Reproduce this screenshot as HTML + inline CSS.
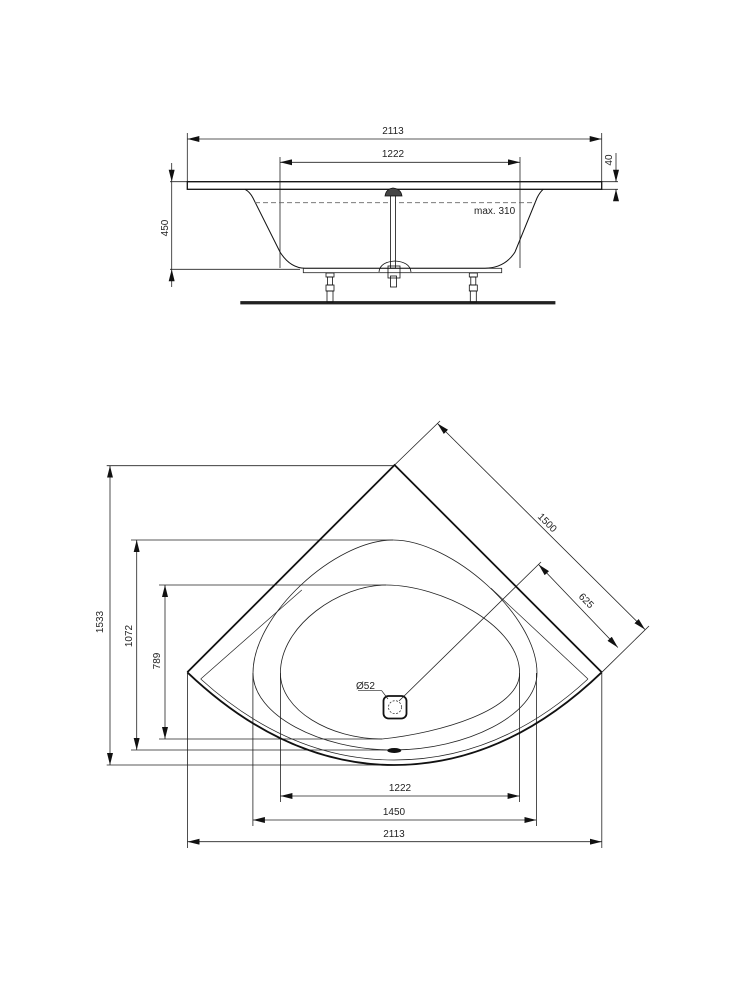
<!DOCTYPE html>
<html><head><meta charset="utf-8"><style>
html,body{margin:0;padding:0;background:#fff;}
svg{display:block;}
text{font-family:"Liberation Sans",sans-serif;font-size:10px;fill:#222;}
</style></head><body>
<svg width="750" height="982" viewBox="0 0 750 982" xmlns="http://www.w3.org/2000/svg">
<defs>
<marker id="a" viewBox="0 0 12 6" refX="12" refY="3" markerWidth="12" markerHeight="6" markerUnits="userSpaceOnUse" orient="auto-start-reverse">
<path d="M0,0 L12,3 L0,6 Z" fill="#111"/></marker>
</defs>
<g stroke="#222" stroke-width="0.8" fill="none">
<!-- TOP VIEW -->
<line x1="187.3" y1="139" x2="601.7" y2="139" marker-start="url(#a)" marker-end="url(#a)"/>
<line x1="187.3" y1="133" x2="187.3" y2="182"/>
<line x1="601.7" y1="133" x2="601.7" y2="182"/>
<line x1="280" y1="162.3" x2="520" y2="162.3" marker-start="url(#a)" marker-end="url(#a)"/>
<line x1="280" y1="157" x2="280" y2="268"/>
<line x1="520" y1="157" x2="520" y2="268"/>
<line x1="170" y1="181.7" x2="618" y2="181.7"/>
<line x1="601.7" y1="189.3" x2="618" y2="189.3"/>
<line x1="170" y1="269.3" x2="300" y2="269.3"/>
<!-- 450 -->
<line x1="171.7" y1="163" x2="171.7" y2="181.7" marker-end="url(#a)"/>
<line x1="171.7" y1="181.7" x2="171.7" y2="269.3"/>
<line x1="171.7" y1="287" x2="171.7" y2="269.3" marker-end="url(#a)"/>
<!-- 40 -->
<line x1="616" y1="153" x2="616" y2="181.7" marker-end="url(#a)"/>
<line x1="616" y1="201" x2="616" y2="189.3" marker-end="url(#a)"/>
<rect x="187.3" y="181.7" width="414.4" height="7.6" stroke-width="1.3" stroke="#111"/>
<path d="M245,189.3 Q250,192 253,198 L280,252 Q290,268 305,268.3 L485,268.3 Q505,268 515,252 L537,198 Q540,192 543.3,189.3" stroke="#111" stroke-width="1"/>
<line x1="255" y1="202.7" x2="536" y2="202.7" stroke-dasharray="5,3" stroke="#666"/>
<rect x="303.3" y="268.3" width="198.4" height="4.4"/>
<rect x="240.7" y="301.5" width="314.3" height="2.5" fill="#222"/>
<!-- feet -->
<g stroke="#111">
<rect x="326" y="273" width="8" height="4"/><rect x="327.5" y="277" width="5" height="8"/><rect x="326" y="285" width="8" height="6"/><rect x="327" y="291" width="6" height="11"/>
<rect x="469.3" y="273" width="8" height="4"/><rect x="470.8" y="277" width="5" height="8"/><rect x="469.3" y="285" width="8" height="6"/><rect x="470.3" y="291" width="6" height="11"/>
</g>
<!-- pipe -->
<path d="M385,196 Q386,189 393,188 Q401,189 402,196 Z" fill="#444" stroke="#111"/>
<rect x="390.5" y="196" width="5" height="72" fill="#fff" stroke="#111"/>
<path d="M379,272 Q380,262 395,261 Q410,262 411,272" stroke="#111"/>
<rect x="388" y="266" width="12" height="12" stroke="#111"/>
<rect x="390.5" y="276" width="6" height="11" stroke="#111"/>
</g>
<text x="393" y="134" text-anchor="middle">2113</text>
<text x="393" y="157" text-anchor="middle">1222</text>
<text x="474" y="214">max. 310</text>
<text transform="translate(168,228) rotate(-90)" text-anchor="middle">450</text>
<text transform="translate(612,160) rotate(-90)" text-anchor="middle">40</text>

<!-- PLAN VIEW -->
<g stroke="#222" stroke-width="0.8" fill="none">
<line x1="106.7" y1="465.7" x2="394" y2="465.7"/>
<line x1="106.7" y1="765" x2="394" y2="765"/>
<line x1="110" y1="465.7" x2="110" y2="765" marker-start="url(#a)" marker-end="url(#a)"/>
<line x1="131" y1="540" x2="393" y2="540"/>
<line x1="131" y1="750" x2="393" y2="750"/>
<line x1="136.7" y1="540" x2="136.7" y2="750" marker-start="url(#a)" marker-end="url(#a)"/>
<line x1="159" y1="585" x2="386" y2="585"/>
<line x1="159" y1="739" x2="382" y2="739"/>
<line x1="165" y1="585" x2="165" y2="739" marker-start="url(#a)" marker-end="url(#a)"/>
<line x1="280.4" y1="673" x2="280.4" y2="802"/>
<line x1="519.6" y1="673" x2="519.6" y2="802"/>
<line x1="280.4" y1="796" x2="519.6" y2="796" marker-start="url(#a)" marker-end="url(#a)"/>
<line x1="252.9" y1="673" x2="252.9" y2="826"/>
<line x1="536.4" y1="673" x2="536.4" y2="826"/>
<line x1="252.9" y1="820" x2="536.4" y2="820" marker-start="url(#a)" marker-end="url(#a)"/>
<line x1="187.5" y1="673" x2="187.5" y2="848"/>
<line x1="601.8" y1="673" x2="601.8" y2="848"/>
<line x1="187.5" y1="841.7" x2="601.8" y2="841.7" marker-start="url(#a)" marker-end="url(#a)"/>
<line x1="394.6" y1="465" x2="440" y2="421"/>
<line x1="601.8" y1="672.3" x2="649" y2="626"/>
<line x1="437.5" y1="423.5" x2="645" y2="629.5" marker-start="url(#a)" marker-end="url(#a)"/>
<line x1="399" y1="701" x2="541" y2="562"/>
<line x1="538.6" y1="564.5" x2="617.9" y2="647.5" marker-start="url(#a)" marker-end="url(#a)"/>
<path d="M187.3,672.3 L394.6,465 L601.7,672.3" stroke="#111" stroke-width="1.8" stroke-linejoin="miter"/>
<path d="M187.3,672.3 Q285,765 394,765 Q505,765 601.7,672.3" stroke="#111" stroke-width="1.8"/>
<path d="M200.7,679 Q290,760 394,760 Q500,760 588,679" stroke-width="0.7"/>
<path d="M200.7,679 L301.8,590" stroke-width="0.7"/>
<path d="M491,588.3 L588,679" stroke-width="0.7"/>
<path d="M393,750 C320,750 253,715 253,673 C253,615 335,540 393,540 C451,540 537,615 537,673 C537,715 466,750 393,750 Z" stroke-width="0.8"/>
<path d="M382,739 C330,739 280.4,710 280.4,673 C280.4,625 340,585 386,585 C440,585 519.6,625 519.6,673 C519.6,710 440,733 382,739 Z" stroke-width="0.8"/>
<ellipse cx="394.3" cy="750.5" rx="7" ry="2.5" fill="#111" stroke="none"/>
<rect x="383.5" y="696" width="23" height="22.5" rx="5" stroke="#111" stroke-width="1.8"/>
<circle cx="395" cy="707.2" r="6.5" stroke-dasharray="2,1.5" stroke-width="0.7"/>
<path d="M358,690.7 L381.7,690.7 L388,699" stroke-width="0.7"/>
</g>
<text transform="translate(103,622) rotate(-90)" text-anchor="middle">1533</text>
<text transform="translate(132,636) rotate(-90)" text-anchor="middle">1072</text>
<text transform="translate(160,661) rotate(-90)" text-anchor="middle">789</text>
<text x="400" y="791" text-anchor="middle">1222</text>
<text x="394" y="815" text-anchor="middle">1450</text>
<text x="394" y="837" text-anchor="middle">2113</text>
<text transform="translate(545,525) rotate(45)" text-anchor="middle">1500</text>
<text transform="translate(584,603) rotate(45)" text-anchor="middle">625</text>
<text x="356" y="689">Ø52</text>
</svg>
</body></html>
